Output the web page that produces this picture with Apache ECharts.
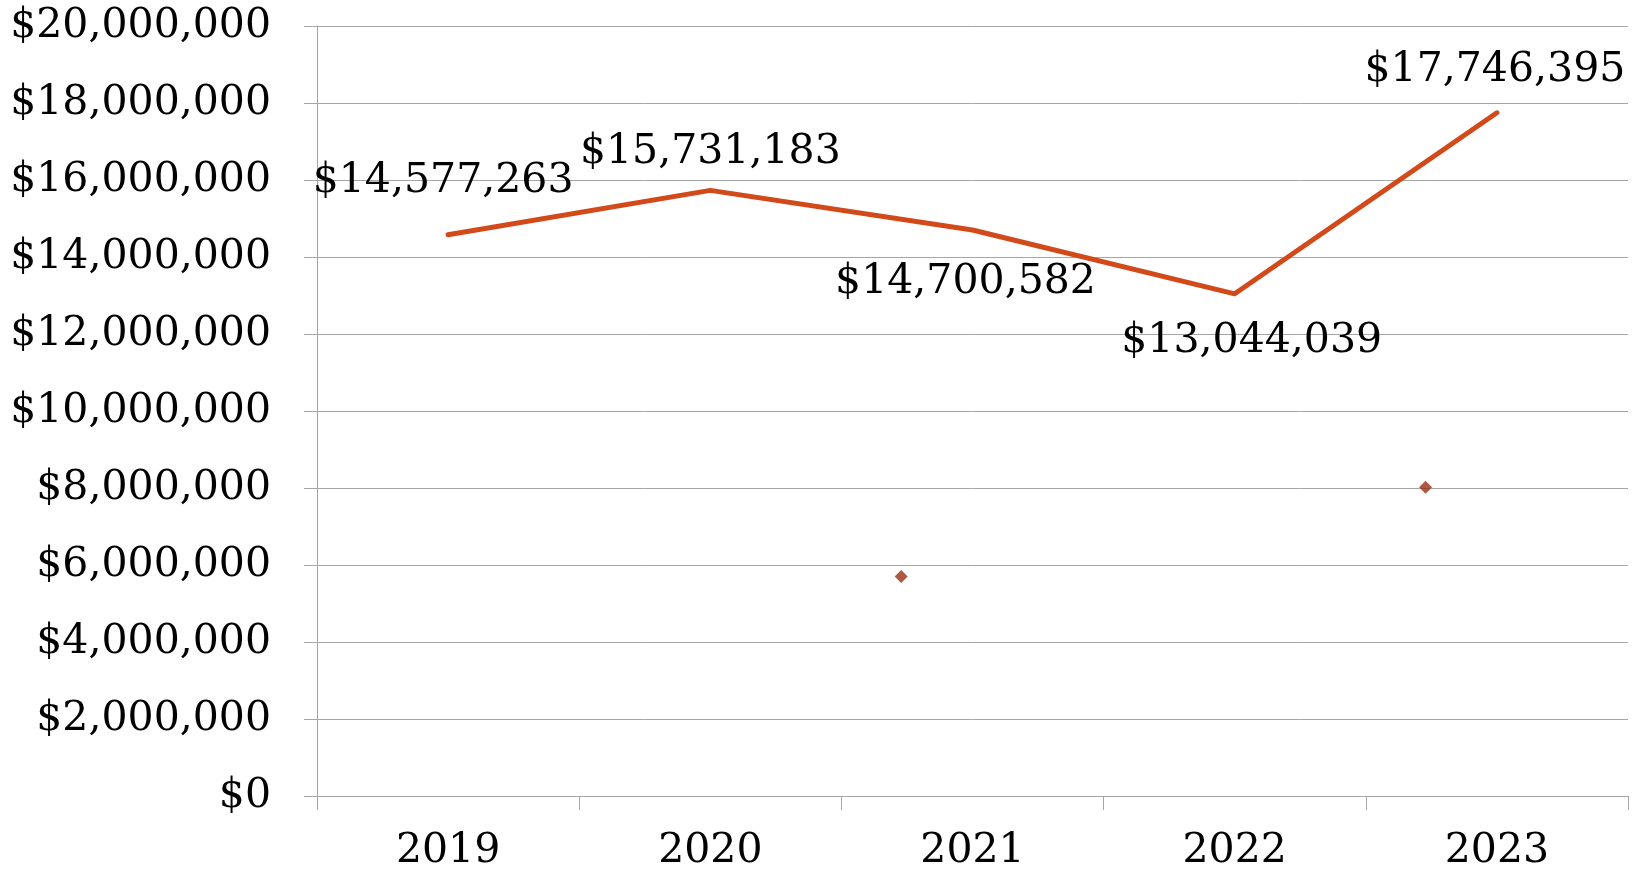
<!DOCTYPE html>
<html>
<head>
<meta charset="utf-8">
<script src="https://cdn.jsdelivr.net/npm/echarts@6/dist/echarts.min.js"></script>
<style>
    html, body { margin: 0; padding: 0; background: #fff; }
    #chart { width: 1647px; height: 878px; }
</style>
</head>
<body>
<div id="chart"></div>
<script>
const years = ['2019', '2020', '2021', '2022', '2023'];
const totals = [14577263, 15731183, 14700582, 13044039, 17746395];
// label placement per point: [position, dx, dy]
const labelPlace = [
    ['top', -5, -26],
    ['top', 0, -11],
    ['bottom', -7, 25],
    ['bottom', 17, 21],
    ['top', -2, -15],
];
// stray diamond markers (x in category units)
const strayPoints = [[1.728, 5700000], [3.728, 8020000]];
const yTicks = { min: 0, max: 20000000, interval: 2000000 };

const fontFamily = '"DejaVu Serif", serif';
const gridColor = '#a6a6a6';

const fmtMoney = (v) => '$' + Number(v).toLocaleString('en-US');

const chart = echarts.init(document.getElementById('chart'));

const lineData = totals.map((v, i) => ({
    value: v,
    label: { show: true, position: labelPlace[i][0] },
}));

chart.setOption({
    animation: false,
    grid: { left: 317, right: 19, top: 26, bottom: 82 },
    xAxis: [
        {
            type: 'category',
            data: years,
            boundaryGap: true,
            axisLine: { show: true, lineStyle: { color: gridColor, width: 1 } },
            axisTick: { show: true, length: 14, lineStyle: { color: gridColor, width: 1 } },
            axisLabel: { color: '#000', fontFamily: fontFamily, fontSize: 41, margin: 35 },
            splitLine: { show: false },
        },
        {
            type: 'value',
            min: -0.5,
            max: 4.5,
            show: false,
        },
    ],
    yAxis: {
        type: 'value',
        min: yTicks.min,
        max: yTicks.max,
        interval: yTicks.interval,
        axisLine: { show: true, onZero: false, lineStyle: { color: gridColor, width: 1 } },
        axisTick: { show: true, length: 13, lineStyle: { color: gridColor } },
        axisLabel: {
            color: '#000',
            fontFamily: fontFamily,
            fontSize: 41,
            margin: 46,
            formatter: fmtMoney,
        },
        splitLine: { lineStyle: { color: gridColor, width: 1 } },
    },
    series: [
        {
            type: 'line',
            data: lineData,
            symbol: 'circle',
            symbolSize: 3,
            showSymbol: true,
            lineStyle: { color: '#d24a1a', width: 5, cap: 'round', join: 'round' },
            itemStyle: { color: '#d24a1a' },
            label: {
                show: true,
                color: '#000',
                fontFamily: fontFamily,
                fontSize: 41,
                formatter: (p) => fmtMoney(p.value),
            },
            labelLayout: (p) => ({
                dx: labelPlace[p.dataIndex][1],
                dy: labelPlace[p.dataIndex][2],
                hideOverlap: false,
            }),
            z: 3,
        },
        {
            type: 'scatter',
            xAxisIndex: 1,
            data: strayPoints,
            symbol: 'diamond',
            symbolSize: [13, 13],
            itemStyle: { color: '#9a3013' },
            z: 4,
        },
    ],
});
</script>
</body>
</html>
